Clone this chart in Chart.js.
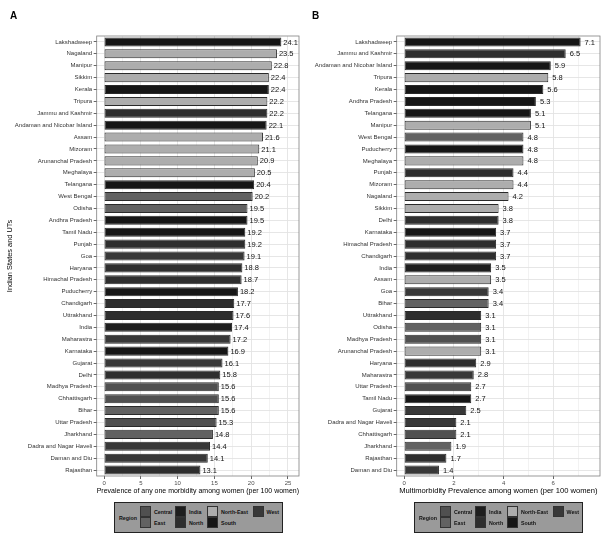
<!DOCTYPE html>
<html>
<head>
<meta charset="utf-8">
<script src="https://cdn.jsdelivr.net/npm/chart.js@4/dist/chart.umd.min.js"></script>
<style>
  body { margin: 0; background: #fff; font-family: "Liberation Sans", Arial, sans-serif; }
  #wrap { position: relative; width: 608px; height: 547px; overflow: hidden; }
  canvas { position: absolute; top: 0; }
  .letter { position: absolute; top: 10px; font-weight: bold; font-size: 10px; }
  .legend { position: absolute; top: 502px; width: 167px; height: 29px; background: #9a9a9a; border: 1px solid #222; }
  .legend div { position: absolute; }
  .legend .txt { font-size: 5.3px; font-weight: bold; color: #111; line-height: 6px; }
  .legend .key { width: 11px; height: 11px; border: 0.5px solid #333; box-sizing: border-box; }
</style>
</head>
<body>
<div id="wrap">
  <canvas id="chartA" width="304" height="547" style="left:0"></canvas>
  <canvas id="chartB" width="304" height="547" style="left:304px"></canvas>
  <div class="letter" style="left:10px">A</div>
  <div class="letter" style="left:312px">B</div>
</div>
<script>
// panel A: any one morbidity
var statesA = ["Lakshadweep", "Nagaland", "Manipur", "Sikkim", "Kerala", "Tripura",
  "Jammu and Kashmir", "Andaman and Nicobar Island", "Assam", "Mizoram", "Arunanchal Pradesh",
  "Meghalaya", "Telangana", "West Bengal", "Odisha", "Andhra Pradesh", "Tamil Nadu", "Punjab",
  "Goa", "Haryana", "Himachal Pradesh", "Puducherry", "Chandigarh", "Uttrakhand", "India",
  "Maharastra", "Karnataka", "Gujarat", "Delhi", "Madhya Pradesh", "Chhattisgarh", "Bihar",
  "Uttar Pradesh", "Jharkhand", "Dadra and Nagar Haveli", "Daman and Diu", "Rajasthan"];
var valuesA = [24.1, 23.5, 22.8, 22.4, 22.4, 22.2, 22.2, 22.1, 21.6, 21.1, 20.9, 20.5, 20.4,
  20.2, 19.5, 19.5, 19.2, 19.2, 19.1, 18.8, 18.7, 18.2, 17.7, 17.6, 17.4, 17.2, 16.9, 16.1,
  15.8, 15.6, 15.6, 15.6, 15.3, 14.8, 14.4, 14.1, 13.1];

// panel B: multimorbidity
var statesB = ["Lakshadweep", "Jammu and Kashmir", "Andaman and Nicobar Island", "Tripura",
  "Kerala", "Andhra Pradesh", "Telangana", "Manipur", "West Bengal", "Puducherry", "Meghalaya",
  "Punjab", "Mizoram", "Nagaland", "Sikkim", "Delhi", "Karnataka", "Himachal Pradesh",
  "Chandigarh", "India", "Assam", "Goa", "Bihar", "Uttrakhand", "Odisha", "Madhya Pradesh",
  "Arunanchal Pradesh", "Haryana", "Maharastra", "Uttar Pradesh", "Tamil Nadu", "Gujarat",
  "Dadra and Nagar Haveli", "Chhattisgarh", "Jharkhand", "Rajasthan", "Daman and Diu"];
var valuesB = [7.1, 6.5, 5.9, 5.8, 5.6, 5.3, 5.1, 5.1, 4.8, 4.8, 4.8, 4.4, 4.4, 4.2, 3.8, 3.8,
  3.7, 3.7, 3.7, 3.5, 3.5, 3.4, 3.4, 3.1, 3.1, 3.1, 3.1, 2.9, 2.8, 2.7, 2.7, 2.5, 2.1, 2.1,
  1.9, 1.7, 1.4];

var regionOf = {
  "Lakshadweep": "South", "Kerala": "South", "Andaman and Nicobar Island": "South",
  "Telangana": "South", "Andhra Pradesh": "South", "Tamil Nadu": "South",
  "Puducherry": "South", "Karnataka": "South",
  "Nagaland": "North-East", "Manipur": "North-East", "Sikkim": "North-East",
  "Tripura": "North-East", "Assam": "North-East", "Mizoram": "North-East",
  "Arunanchal Pradesh": "North-East", "Meghalaya": "North-East",
  "Jammu and Kashmir": "North", "Punjab": "North", "Haryana": "North",
  "Himachal Pradesh": "North", "Chandigarh": "North", "Uttrakhand": "North",
  "Delhi": "North", "Rajasthan": "North",
  "West Bengal": "East", "Odisha": "East", "Bihar": "East", "Jharkhand": "East",
  "Goa": "West", "Maharastra": "West", "Gujarat": "West",
  "Dadra and Nagar Haveli": "West", "Daman and Diu": "West",
  "Madhya Pradesh": "Central", "Chhattisgarh": "Central", "Uttar Pradesh": "Central",
  "India": "India"
};
var regions = ["Central", "East", "India", "North", "North-East", "South", "West"];
var regionColors = ["#505050", "#626262", "#1e1e1e", "#2e2e2e", "#adadad", "#161616", "#383838"];

var majorA = [0, 5, 10, 15, 20, 25];
var minorA = [2.5, 7.5, 12.5, 17.5, 22.5];
var majorB = [0, 2, 4, 6];
var minorB = [1, 3, 5, 7];

const FONT = '"Liberation Sans", Arial, sans-serif';

function colorFor(state) {
  return regionColors[regions.indexOf(regionOf[state])];
}

const valueLabels = {
  id: "valueLabels",
  afterDatasetsDraw(chart, args, opts) {
    const ctx = chart.ctx;
    const meta = chart.getDatasetMeta(0);
    const vals = chart.data.datasets[0].data;
    ctx.save();
    ctx.font = "7.5px " + FONT;
    ctx.fillStyle = "#111";
    ctx.textBaseline = "middle";
    meta.data.forEach(function (bar, i) {
      ctx.fillText(vals[i].toFixed(1), bar.x + opts.gap, bar.y + 0.5);
    });
    ctx.restore();
  }
};

const panelBorder = {
  id: "panelBorder",
  afterDraw(chart) {
    const a = chart.chartArea;
    const ctx = chart.ctx;
    ctx.save();
    ctx.strokeStyle = "#808080";
    ctx.lineWidth = 0.8;
    ctx.strokeRect(a.left, a.top, a.right - a.left, a.bottom - a.top);
    ctx.restore();
  }
};

function makeChart(id, states, values, major, minor, opt) {
  const ticksAll = major.concat(minor).sort(function (a, b) { return a - b; });
  return new Chart(document.getElementById(id), {
    type: "bar",
    data: {
      labels: states,
      datasets: [{
        data: values,
        backgroundColor: states.map(colorFor),
        borderColor: "#2a2a2a",
        borderWidth: 1,
        borderSkipped: false,
        barPercentage: 0.76,
        categoryPercentage: 1
      }]
    },
    plugins: [valueLabels, panelBorder],
    options: {
      indexAxis: "y",
      responsive: false,
      animation: false,
      layout: { padding: { top: 36, right: opt.padRight, bottom: 51, left: 0 } },
      plugins: {
        legend: { display: false },
        tooltip: { enabled: false },
        valueLabels: { gap: opt.gap }
      },
      scales: {
        x: {
          min: opt.min,
          max: opt.max,
          afterBuildTicks: function (scale) {
            scale.ticks = ticksAll.map(function (v) { return { value: v }; });
          },
          afterFit: function (scale) { scale.height = 20; },
          border: { display: false },
          grid: {
            color: "#e3e3e3",
            lineWidth: function (c) { return major.includes(c.tick.value) ? 0.9 : 0.45; },
            tickColor: function (c) { return major.includes(c.tick.value) ? "#555" : "rgba(0,0,0,0)"; },
            tickLength: 3
          },
          ticks: {
            autoSkip: false,
            maxRotation: 0,
            padding: 1,
            color: "#4d4d4d",
            font: { size: 6, family: FONT },
            callback: function (v) { return major.includes(v) ? String(v) : ""; }
          },
          title: {
            display: true,
            text: opt.xTitle,
            color: "#000",
            font: { size: 7.6, family: FONT },
            padding: { top: 0, bottom: 1 }
          }
        },
        y: {
          afterFit: function (scale) { scale.width = opt.yWidth; },
          border: { display: false },
          grid: {
            offset: false,
            color: "#e3e3e3",
            lineWidth: 0.9,
            tickColor: "#555",
            tickLength: 3
          },
          ticks: {
            autoSkip: false,
            padding: 1.5,
            color: "#333",
            font: { size: 6, family: FONT }
          },
          title: {
            display: opt.yTitle !== "",
            text: opt.yTitle,
            color: "#000",
            font: { size: 7.4, family: FONT },
            padding: { top: 6, bottom: 0 }
          }
        }
      }
    }
  });
}

makeChart("chartA", statesA, valuesA, majorA, minorA, {
  min: -1.0, max: 26.5, padRight: 5, yWidth: 96.7, gap: 2,
  xTitle: "Prevalence of any one morbidity among women (per 100 women)",
  yTitle: "Indian States and UTs"
});
makeChart("chartB", statesB, valuesB, majorB, minorB, {
  min: -0.3, max: 7.88, padRight: 8, yWidth: 92.7, gap: 4,
  xTitle: "Multimorbidity Prevalence among women (per 100 women)",
  yTitle: ""
});

// legend boxes under each panel
var keyX = [25, 60, 92, 137.5];
function makeLegend(left) {
  const box = document.createElement("div");
  box.className = "legend";
  box.style.left = left + "px";
  let html = '<div class="txt" style="left:4px;top:12px">Region</div>';
  regions.forEach(function (r, i) {
    const col = Math.floor(i / 2), row = i % 2;
    const x = keyX[col];
    html += '<div class="key" style="left:' + x + 'px;top:' + (3 + row * 11.3) + 'px;background:' + regionColors[i] + '"></div>';
    html += '<div class="txt" style="left:' + (x + 14) + 'px;top:' + (6 + row * 11) + 'px">' + r + '</div>';
  });
  box.innerHTML = html;
  document.getElementById("wrap").appendChild(box);
}
makeLegend(114);
makeLegend(414);
</script>
</body>
</html>
